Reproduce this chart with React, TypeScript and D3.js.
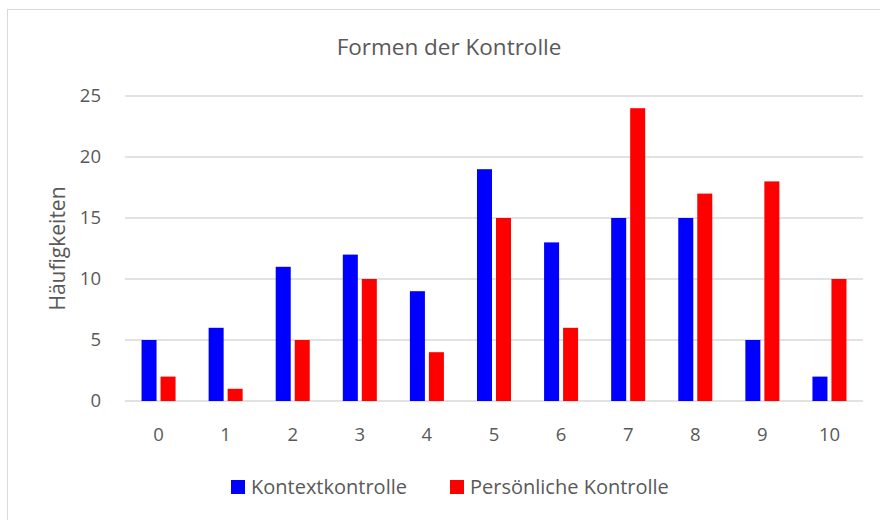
import React, { useEffect, useRef } from "react";
import * as d3 from "d3";

const categories = ["0", "1", "2", "3", "4", "5", "6", "7", "8", "9", "10"];
const kontext = [5, 6, 11, 12, 9, 19, 13, 15, 15, 5, 2];
const persoenlich = [2, 1, 5, 10, 4, 15, 6, 24, 17, 18, 10];
const yTicks = [0, 5, 10, 15, 20, 25];
const seriesNames = ["Kontextkontrolle", "Persönliche Kontrolle"];
const seriesColors = ["#0000ff", "#ff0000"];

const width = 880;
const height = 520;
const margin = { top: 96, right: 17, bottom: 119, left: 125 };
const font = "'Open Sans', sans-serif";
const textColor = "#595959";

const App = () => {
  const ref = useRef<SVGSVGElement>(null);

  useEffect(() => {
    const svg = d3.select(ref.current);
    svg.selectAll("*").remove();

    const x0 = d3
      .scaleBand()
      .domain(categories)
      .range([margin.left, width - margin.right]);
    const x1 = d3
      .scaleBand()
      .domain(seriesNames)
      .range([0, x0.bandwidth()])
      .paddingInner(0.21)
      .paddingOuter(0.87);
    const y = d3
      .scaleLinear()
      .domain([0, 25])
      .range([height - margin.bottom, margin.top]);

    // chart frame
    svg
      .append("rect")
      .attr("x", 7.5)
      .attr("y", 9.5)
      .attr("width", width + 20)
      .attr("height", height + 20)
      .attr("fill", "white")
      .attr("stroke", "#d9d9d9");

    // gridlines
    svg
      .append("g")
      .selectAll("line")
      .data(yTicks)
      .join("line")
      .attr("x1", margin.left)
      .attr("x2", width - margin.right)
      .attr("y1", (d) => y(d))
      .attr("y2", (d) => y(d))
      .attr("stroke", "#d9d9d9")
      .attr("stroke-width", 1.3);

    svg
      .append("g")
      .selectAll("text")
      .data(yTicks)
      .join("text")
      .attr("x", 101)
      .attr("y", (d) => y(d))
      .attr("dy", "0.35em")
      .attr("text-anchor", "end")
      .attr("font-family", font)
      .attr("font-size", 18.5)
      .attr("fill", textColor)
      .text((d) => d);

    const data = categories.map((c, i) => ({
      c,
      values: [kontext[i], persoenlich[i]],
    }));

    const groups = svg
      .append("g")
      .selectAll("g")
      .data(data)
      .join("g")
      .attr("transform", (d) => `translate(${x0(d.c)},0)`);

    groups
      .selectAll("rect")
      .data((d) => d.values.map((v, i) => ({ v, i })))
      .join("rect")
      .attr("x", (d) => x1(seriesNames[d.i])!)
      .attr("width", x1.bandwidth())
      .attr("y", (d) => y(d.v))
      .attr("height", (d) => y(0) - y(d.v))
      .attr("fill", (d) => seriesColors[d.i]);

    svg
      .append("g")
      .selectAll("text")
      .data(categories)
      .join("text")
      .attr("x", (d) => x0(d)! + x0.bandwidth() / 2)
      .attr("y", 435)
      .attr("dy", "0.35em")
      .attr("text-anchor", "middle")
      .attr("font-family", font)
      .attr("font-size", 18.5)
      .attr("fill", textColor)
      .text((d) => d);

    svg
      .append("text")
      .attr("x", 449)
      .attr("y", 47)
      .attr("dy", "0.35em")
      .attr("text-anchor", "middle")
      .attr("font-family", font)
      .attr("font-size", 22.5)
      .attr("fill", textColor)
      .text("Formen der Kontrolle");

    svg
      .append("text")
      .attr("transform", `translate(58,${(margin.top + height - margin.bottom) / 2}) rotate(-90)`)
      .attr("dy", "0.35em")
      .attr("text-anchor", "middle")
      .attr("font-family", font)
      .attr("font-size", 21)
      .attr("fill", textColor)
      .text("Häufigkeiten");

    // legend
    const legendX = [231, 450];
    const legend = svg
      .append("g")
      .selectAll("g")
      .data(seriesNames)
      .join("g")
      .attr("transform", (d, i) => `translate(${legendX[i]},487)`);
    legend
      .append("rect")
      .attr("x", 0)
      .attr("y", -7)
      .attr("width", 14)
      .attr("height", 14)
      .attr("fill", (d, i) => seriesColors[i]);
    legend
      .append("text")
      .attr("x", 20)
      .attr("dy", "0.35em")
      .attr("font-family", font)
      .attr("font-size", 20)
      .attr("fill", textColor)
      .text((d) => d);
  }, []);

  return (
    <svg
      ref={ref}
      width={width}
      height={height}
      style={{ position: "absolute", left: 0, top: 0, background: "white" }}
    ></svg>
  );
};

export default App;
